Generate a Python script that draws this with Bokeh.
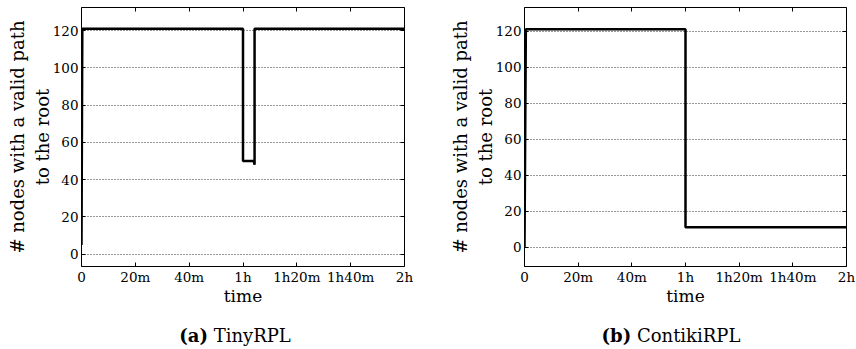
from bokeh.plotting import figure
from bokeh.models import Range1d, FixedTicker, LinearAxis, Div
from bokeh.layouts import row, column
from bokeh.embed import file_html
from bokeh.resources import INLINE

# x axis: minutes since start
time_ticks = [0, 20, 40, 60, 80, 100, 120]
time_tick_labels = ["0", "20m", "40m", "1h", "1h20m", "1h40m", "2h"]
count_ticks = [0, 20, 40, 60, 80, 100, 120]

# (a) TinyRPL
tiny_t = [0, 0.3, 60, 60, 64.0, 64.3, 64.3, 119.7, 120]
tiny_n = [5, 121, 121, 50, 50, 48, 121, 121, 120]

# (b) ContikiRPL
contiki_t = [0, 0.5, 60, 60, 120]
contiki_n = [0, 121, 121, 11, 11]

FONT = "DejaVu Serif"
TICK_SIZE = "13.5px"
XLABEL_SIZE = "17px"
YLABEL_SIZE = "18px"
CAP_SIZE = "18px"
MAIN_H = 310
CAP_H = 39


def make_panel(t, n, width, bl, br, bt, yr):
    p = figure(width=width, height=MAIN_H, output_backend="svg", toolbar_location=None,
               x_range=Range1d(0, 120), y_range=Range1d(*yr),
               min_border_left=bl, min_border_right=br, min_border_top=bt,
               min_border_bottom=MAIN_H - 266,
               x_axis_label="time",
               y_axis_label="# nodes with a valid path\nto the root")
    p.background_fill_color = "white"
    p.border_fill_color = "white"
    p.outline_line_color = "black"
    p.outline_line_width = 1

    xa = p.xaxis[0]
    ya = p.yaxis[0]
    xa.ticker = FixedTicker(ticks=time_ticks)
    xa.major_label_overrides = {tk: lb for tk, lb in zip(time_ticks, time_tick_labels)}
    ya.ticker = FixedTicker(ticks=count_ticks)
    for ax in (xa, ya):
        ax.axis_line_color = None
        ax.major_tick_in = 4
        ax.major_tick_out = 0
        ax.minor_tick_line_color = None
        ax.major_tick_line_color = "black"
        ax.major_label_text_font = FONT
        ax.major_label_text_font_size = TICK_SIZE
        ax.major_label_text_color = "black"
        ax.axis_label_text_font = FONT
        ax.axis_label_text_font_style = "normal"
        ax.axis_label_text_color = "black"
    xa.axis_label_text_font_size = XLABEL_SIZE
    ya.axis_label_text_font_size = YLABEL_SIZE
    xa.major_label_standoff = 2
    xa.axis_label_standoff = -2
    ya.major_label_standoff = 3
    ya.axis_label_standoff = -3

    # mirrored inward ticks on top and right
    top = LinearAxis(ticker=FixedTicker(ticks=time_ticks))
    right = LinearAxis(ticker=FixedTicker(ticks=count_ticks))
    top.major_label_overrides = {tk: "" for tk in time_ticks}
    right.major_label_overrides = {tk: "" for tk in count_ticks}
    for ax in (top, right):
        ax.axis_line_color = None
        ax.major_tick_in = 4
        ax.major_tick_out = 0
        ax.minor_tick_line_color = None
        ax.major_tick_line_color = "black"
        ax.major_label_text_font_size = "1px"
        ax.major_label_text_color = None
        ax.major_label_standoff = 0
    p.add_layout(top, "above")
    p.add_layout(right, "right")

    p.xgrid.visible = False
    p.ygrid.ticker = FixedTicker(ticks=count_ticks)
    p.ygrid.grid_line_color = "#333333"
    p.ygrid.grid_line_dash = "1 2"
    p.ygrid.grid_line_width = 1

    p.line(t, n, line_color="black", line_width=2.5)
    return p


def make_caption(width, letter, name, shift):
    html = ('<span style="white-space:nowrap; position:relative; left:%dpx">'
            '<b>%s</b> %s</span>' % (shift, letter, name))
    return Div(text=html, width=width, height=CAP_H,
               styles={"font-family": FONT, "font-size": CAP_SIZE, "color": "black",
                       "text-align": "center", "padding-top": "11px",
                       "box-sizing": "border-box", "line-height": "1.15",
                       "background-color": "white"})


left = make_panel(tiny_t, tiny_n, 430, 81, 26, 7, (-6.6, 132.4))
right_p = make_panel(contiki_t, contiki_n, 426, 94, 10, 7, (-10.75, 133.1))
cap_l = make_caption(430, "(a)", "TinyRPL", 15)
cap_r = make_caption(426, "(b)", "ContikiRPL", 13)

layout = column(row(left, right_p), row(cap_l, cap_r))
open("out.html", "w").write(file_html(layout, INLINE))
